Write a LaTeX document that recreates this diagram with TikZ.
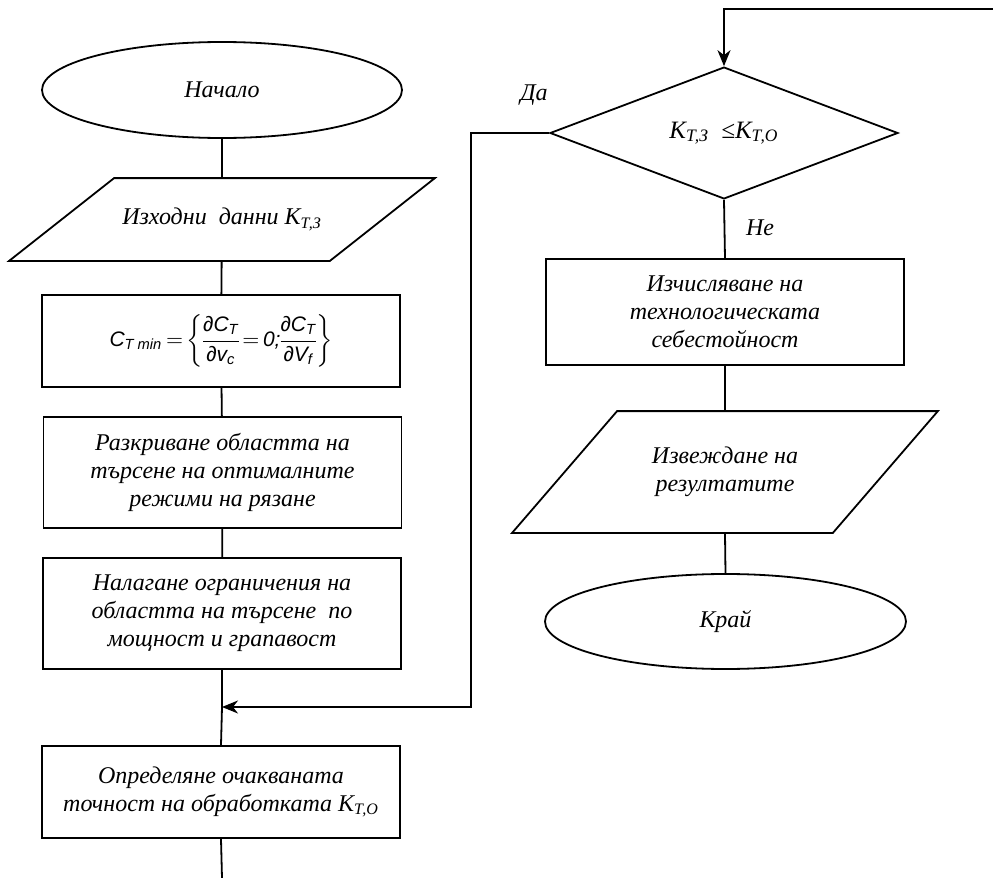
\documentclass[tikz,border=0pt]{standalone}
\usepackage{fontspec}
\usepackage{amsmath}
\setmainfont{Liberation Serif}
\newfontfamily\arialfont{Liberation Sans}
\usetikzlibrary{shapes.geometric,arrows.meta,calc}

\begin{document}
\begin{tikzpicture}[x=0.5pt,y=-0.5pt,
  line width=0.9pt,
  every node/.style={font=\fontsize{12}{14}\selectfont\itshape, align=center, inner sep=0pt},
  term/.style={draw, ellipse, minimum width=180pt, minimum height=48pt},
  proc/.style={draw, rectangle, minimum width=179pt},
  io/.style={rectangle, minimum width=159.5pt},
  decision/.style={draw, diamond, minimum width=174pt, minimum height=65pt},
  arr/.style={-{Stealth[length=8pt,width=6.5pt,inset=2.5pt]}}
]
\useasboundingbox (0,0) rectangle (993,878);

% ---- left column ----
\node[term] (start) at (222,90) {Начало};

\node[io, minimum height=40.5pt] (in) at (222,219.5) {Изходни~ данни К\textsubscript{Т,З}};
\draw ($(in.north west)+(52.5,0)$) -- ($(in.north east)+(52.5,0)$)
   -- ($(in.south east)-(52.5,0)$) -- ($(in.south west)-(52.5,0)$) -- cycle;

\node[proc, minimum height=46pt] (f) at (221,341)
  {\arialfont\itshape\fontsize{10.5}{12}\selectfont
   \thickmuskip=3mu\medmuskip=2mu\nulldelimiterspace=0pt
   $\text{C}_{\text{T min}} = \left\{\dfrac{\text{∂C}_{\text{T}}}{\text{∂v}_{\text{c}}} = \text{0;}\dfrac{\text{∂C}_{\text{T}}}{\text{∂V}_{\text{f}}}\right\}$};

\node[proc, minimum height=55.5pt] (area) at (222.5,472.5)
  {Разкриване областта на\\търсене на оптималните\\режими на рязане};

\node[proc, minimum height=55.5pt] (limit) at (222,613.5)
  {Налагане ограничения на\\областта на търсене~ по\\мощност и грапавост};

\node[proc, minimum height=46pt] (acc) at (221,792)
  {Определяне очакваната\\точност на обработката К\textsubscript{Т,О}};

\coordinate (join) at (222,707);
\coordinate (out) at (222,878);

\draw (start) -- (in);
\draw (in) -- (f);
\draw (f) -- (area);
\draw (area) -- (limit);
\draw (limit.south) -- (join) -- (acc.north);
\draw (acc.south) -- (out);

% ---- right column ----
\coordinate (feed) at (993,9);
\node[decision] (cmp) at (724,133) {\fontsize{12.5}{14}\selectfont К\textsubscript{Т,З}~~≤К\textsubscript{Т,О}};

\node[proc, minimum height=53pt] (cost) at (725,312)
  {Изчисляване на\\технологическата\\себестойност};

\node[io, minimum height=60pt] (res) at (725,472)
  {Извеждане на\\резултатите};
\draw ($(res.north west)+(52.5,0)$) -- ($(res.north east)+(52.5,0)$)
   -- ($(res.south east)-(52.5,0)$) -- ($(res.south west)-(52.5,0)$) -- cycle;

\node[term, minimum width=180.5pt, minimum height=47.5pt] (stop) at (725.5,621.5) {Край};

\draw[arr] (feed) -| (cmp.north);
\draw[arr] (cmp.west) -- (471,133) |- (join);
\draw (cmp.south) -- (cost.north);
\draw (cost.south) -- (res.north);
\draw (res.south) -- (stop.north);

\node (yes) at (534,95) {Да};
\node (no) at (760,228) {Не};
\end{tikzpicture}
\end{document}
